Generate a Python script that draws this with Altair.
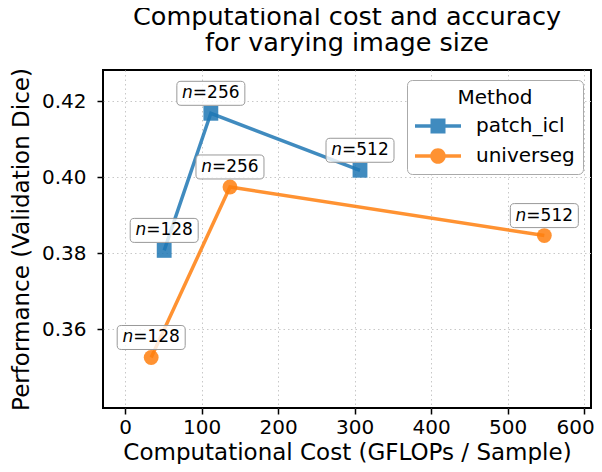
import altair as alt
import pandas as pd

# ---- data ----
methods = ["patch_icl", "patch_icl", "patch_icl", "universeg", "universeg", "universeg"]
gflops = [51, 112, 307, 34, 137, 548]
dice = [0.3807, 0.4168, 0.4018, 0.3525, 0.3974, 0.3846]
img_sizes = [128, 256, 512, 128, 256, 512]

method_names = ["patch_icl", "universeg"]
method_colors = ["#1f77b4", "#ff7f0e"]
x_ticks = [0, 100, 200, 300, 400, 500, 600]
y_ticks = [0.36, 0.38, 0.40, 0.42]

df = pd.DataFrame({
    "method": methods,
    "gflops": gflops,
    "dice": dice,
    "rest": ["=" + str(s) for s in img_sizes],
    "n": ["n"] * len(methods),
})

X = alt.X("gflops:Q", scale=alt.Scale(domain=[-29, 609], nice=False, zero=False),
          axis=alt.Axis(values=x_ticks, title="Computational Cost (GFLOPs / Sample)",
                        labelFlush=10, labelFlushOffset=10))
Y = alt.Y("dice:Q", scale=alt.Scale(domain=[0.3392, 0.4282], nice=False, zero=False),
          axis=alt.Axis(values=y_ticks, format=".2f", title="Performance (Validation Dice)"))

color_nolegend = alt.Color("method:N", scale=alt.Scale(domain=method_names, range=method_colors), legend=None)

base = alt.Chart(df)

lines = base.mark_line(strokeWidth=3.5, opacity=0.85).encode(
    x=X, y=Y, color=color_nolegend, detail="method:N")

pts = base.mark_point(filled=True, opacity=0.85, size=220).encode(
    x=X, y=Y, color=color_nolegend,
    shape=alt.Shape("method:N", scale=alt.Scale(domain=method_names, range=["square", "circle"]), legend=None))

# rounded label box drawn 20px above each point (shape path in symbol units, 1 unit = 34px)
box_path = ("M-0.88,-0.941 L0.88,-0.941 Q1,-0.941 1,-0.823 L1,-0.353 Q1,-0.235 0.88,-0.235 "
            "L-0.88,-0.235 Q-1,-0.235 -1,-0.353 L-1,-0.823 Q-1,-0.941 -0.88,-0.941 Z")
boxes = base.mark_point(shape=box_path, size=4624, filled=True, fill="white", fillOpacity=0.8,
                        stroke="#999999", strokeWidth=1, strokeOpacity=1).encode(x=X, y=Y)

txt_n = base.mark_text(font="DejaVu Sans", fontSize=17, fontStyle="italic", align="right",
                       baseline="middle", dx=-18, dy=-20, color="black").encode(x=X, y=Y, text="n:N")
txt_rest = base.mark_text(font="DejaVu Sans", fontSize=17, align="left",
                          baseline="middle", dx=-18, dy=-20, color="black").encode(x=X, y=Y, text="rest:N")

# legend provider (no visible data marks)
sq_leg = "M-2.3,-0.18 L2.3,-0.18 L2.3,0.18 L-2.3,0.18 Z M-0.75,-0.75 L0.75,-0.75 L0.75,0.75 L-0.75,0.75 Z"
ci_leg = ("M-2.3,-0.18 L2.3,-0.18 L2.3,0.18 L-2.3,0.18 Z "
          "M-0.78,0 A0.78,0.78 0 1,1 0.78,0 A0.78,0.78 0 1,1 -0.78,0 Z")
leg = alt.Legend(
    title="Method", orient="none", legendX=304, legendY=10,
    fillColor="white", strokeColor="#aaaaaa", cornerRadius=5, padding=8,
    titleFontSize=20, titleFont="DejaVu Sans", titleFontWeight="normal", titleAnchor="middle",
    titlePadding=8, labelFontSize=20, labelFont="DejaVu Sans", symbolSize=400,
    symbolOffset=13, labelOffset=28, rowPadding=10, symbolOpacity=0.85, symbolStrokeWidth=0,
)
legend_layer = base.mark_point(filled=True, size=400, opacity=0.85).encode(
    x=X, y=Y,
    color=alt.Color("method:N", scale=alt.Scale(domain=method_names, range=method_colors), legend=leg),
    shape=alt.Shape("method:N", scale=alt.Scale(domain=method_names, range=[sq_leg, ci_leg]), legend=leg),
).transform_filter("false")

chart = alt.layer(lines, pts, boxes, txt_n, txt_rest, legend_layer).resolve_scale(
    color="independent", shape="independent"
).properties(
    width=488, height=338,
    title=alt.TitleParams(["Computational cost and accuracy", "for varying image size"],
                          fontSize=25.5, font="DejaVu Sans", fontWeight="normal", anchor="middle",
                          lineHeight=26, offset=11, color="black"),
    autosize=alt.AutoSizeParams(type="none"),
    padding={"left": 95, "top": 62, "right": 3, "bottom": 56},
).configure_view(
    stroke="black", strokeWidth=2
).configure_axis(
    domain=False, grid=True, gridColor="#c8c8c8", gridDash=[1.5, 3], gridWidth=1,
    tickColor="black", tickSize=6, tickWidth=1.5,
    labelFont="DejaVu Sans", labelFontSize=20, labelColor="black",
    titleFont="DejaVu Sans", titleFontSize=23, titleFontWeight="normal", titleColor="black",
).configure_axisX(labelPadding=3, titlePadding=4).configure_axisY(labelPadding=11, titlePadding=8)

chart.save("out.html", embed_options={"renderer": "svg", "actions": False})
